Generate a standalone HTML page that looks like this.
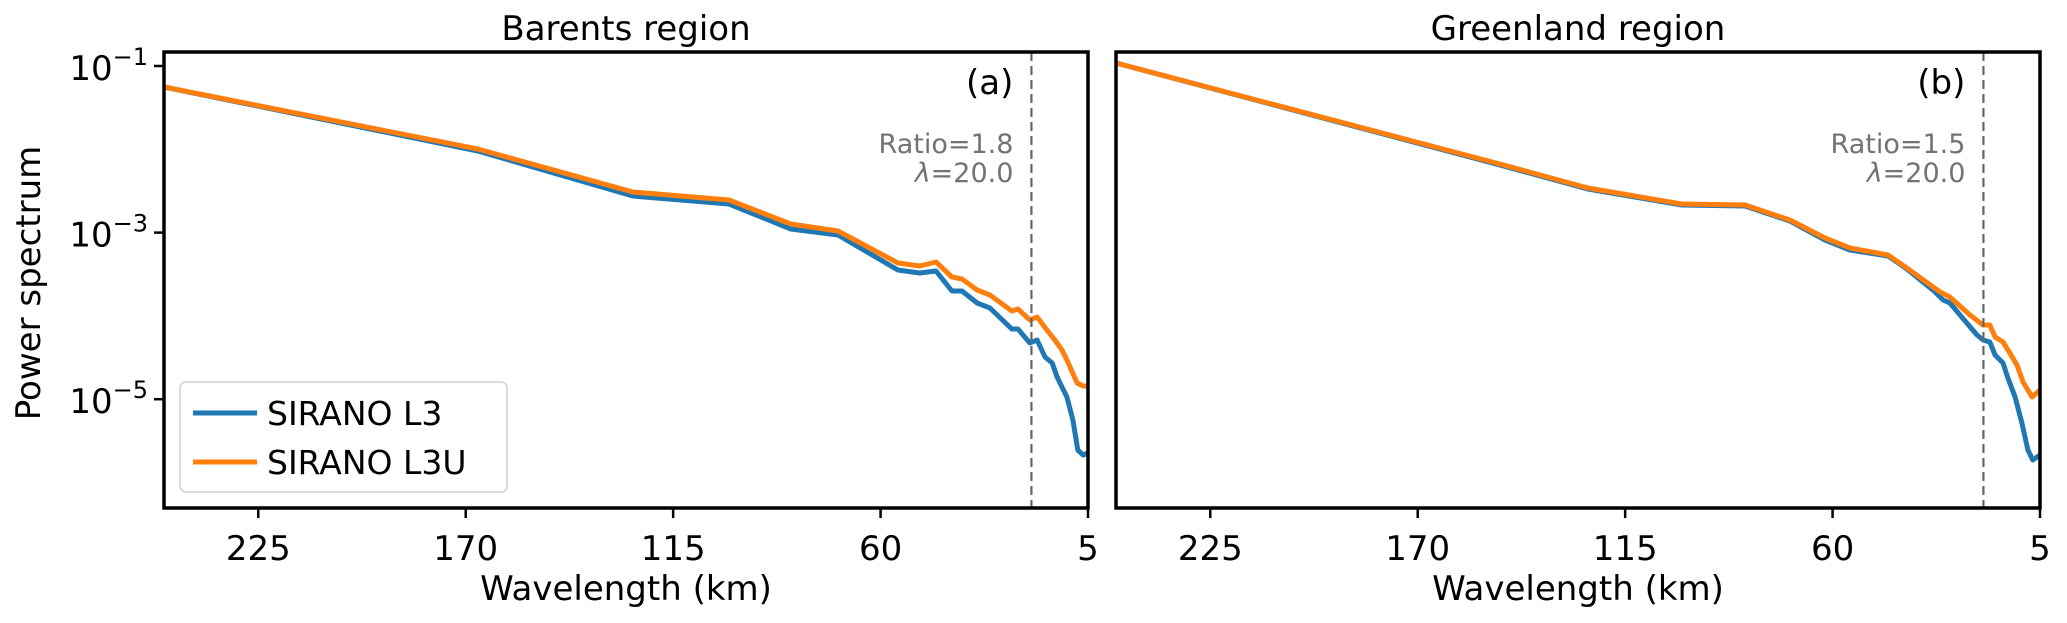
<!DOCTYPE html>
<html><head><meta charset="utf-8">
<style>
html,body{margin:0;padding:0;background:#fff;}
svg{display:block;font-family:"DejaVu Sans","Liberation Sans",sans-serif;}
</style></head>
<body>
<svg id="chart" width="2067" height="623" viewBox="0 0 2067 623" xmlns="http://www.w3.org/2000/svg">
<g id="panels"></g>
<text x="40" y="283" font-size="34" text-anchor="middle" transform="rotate(-90 40 283)">Power spectrum</text>
<g>
<rect x="180" y="382" width="327" height="110" rx="6" fill="#fff" stroke="#d0d0d0" stroke-width="1.5"/>
<line x1="193" y1="413" x2="257" y2="413" stroke="#1f77b4" stroke-width="5"/>
<text x="267" y="425" font-size="33">SIRANO L3</text>
<line x1="193" y1="462" x2="257" y2="462" stroke="#ff7f0e" stroke-width="5"/>
<text x="267" y="474" font-size="33">SIRANO L3U</text>
</g>
</svg>
<script>
// Data (wavelength km, log10 power)
const xTicks = [225, 170, 115, 60, 5];
const yTickExps = [-1, -3, -5];
const barentsKmL3 = [250,166.8,125.7,100.2,83.8,71.3,55.4,49.6,45.3,41.1,38.4,34.4,31.0,25.2,23.6,20.4,18.5,16.4,14.5,13.2,10.6,9.0,7.7,6.3,5];
const barentsL3 = [-1.252,-2.02,-2.561,-2.657,-2.957,-3.029,-3.449,-3.485,-3.461,-3.701,-3.701,-3.845,-3.905,-4.157,-4.157,-4.325,-4.289,-4.493,-4.565,-4.733,-4.973,-5.25,-5.61,-5.67,-5.646];
const barentsKmL3U = [250,166.8,125.7,100.2,83.8,71.3,55.4,49.6,45.3,41.1,38.4,34.4,31.0,25.2,23.6,20.4,18.5,15.9,13.8,11.9,10.6,7.9,6.3,5];
const barentsL3U = [-1.252,-1.996,-2.513,-2.609,-2.897,-2.981,-3.365,-3.401,-3.353,-3.533,-3.557,-3.689,-3.749,-3.941,-3.917,-4.049,-4.013,-4.169,-4.289,-4.409,-4.529,-4.806,-4.842,-4.842];
const greenKmL3 = [250,148.2,124.9,100.0,83.2,71.3,62.0,55.4,45.3,40.3,33.4,30.7,28.9,24.4,21.7,20.1,18.3,16.9,14.8,13.5,11.6,9.8,8.2,6.9,5];
const greenL3 = [-0.964,-2.188,-2.477,-2.669,-2.681,-2.861,-3.089,-3.209,-3.281,-3.437,-3.689,-3.809,-3.845,-4.085,-4.229,-4.289,-4.313,-4.469,-4.565,-4.745,-4.974,-5.286,-5.61,-5.73,-5.67];
const greenKmL3U = [250,148.2,124.9,100.0,83.2,71.3,62.0,55.4,45.3,40.3,31.5,28.9,23.6,20.1,18.3,16.9,14.8,13.0,11.1,9.5,7.1,5];
const greenL3U = [-0.964,-2.176,-2.465,-2.657,-2.669,-2.849,-3.065,-3.185,-3.269,-3.425,-3.713,-3.773,-3.989,-4.109,-4.109,-4.253,-4.313,-4.445,-4.589,-4.793,-4.974,-4.89];
const titles = ["Barents region", "Greenland region"];
const panelTags = ["(a)", "(b)"];
const ratios = ["1.8", "1.5"];
const cutoffKm = [20.0, 20.0];

const NS = "http://www.w3.org/2000/svg";
const root = document.getElementById("panels");
const top0 = 52, bot0 = 508, kmMax = 250, kmMin = 5, expTop = -0.832, expBot = -6.306;
function mk(tag, attrs, parent){const e=document.createElementNS(NS,tag);for(const k in attrs)e.setAttribute(k,attrs[k]);parent.appendChild(e);return e;}
const panels = [
 {left:164,right:1088,series:[[barentsKmL3,barentsL3],[barentsKmL3U,barentsL3U]]},
 {left:1116,right:2040,series:[[greenKmL3,greenL3],[greenKmL3U,greenL3U]]}
];
const colors = ["#1f77b4","#ff7f0e"];
const seriesNames = ["l3","l3u"];
panels.forEach((p,i)=>{
  const xs = km => p.left + (kmMax-km)/(kmMax-kmMin)*(p.right-p.left);
  const ys = e => top0 + (expTop-e)/(expTop-expBot)*(bot0-top0);
  const g = mk("g",{},root);
  
  
  p.series.forEach((s,j)=>{
    const d = s[0].map((k,n)=>(n?"L":"M")+xs(k).toFixed(1)+","+ys(s[1][n]).toFixed(1)).join("");
    const path = mk("path",{d:d,fill:"none",stroke:colors[j],"stroke-width":5,"stroke-linejoin":"round"},g);
    
    
  });
  const cl = mk("line",{x1:xs(cutoffKm[i]),x2:xs(cutoffKm[i]),y1:top0,y2:bot0,stroke:"#666","stroke-width":2.2,"stroke-dasharray":"9,5"},g);
  
  
  const fr = mk("rect",{x:p.left,y:top0,width:p.right-p.left,height:bot0-top0,fill:"none",stroke:"#000","stroke-width":3.5},g);
  
  
  xTicks.forEach(t=>{
    mk("line",{x1:xs(t),x2:xs(t),y1:bot0,y2:bot0+10,stroke:"#000","stroke-width":2.5},g);
    const tx = mk("text",{x:xs(t),y:560,"font-size":34,"text-anchor":"middle"},g);
    tx.textContent = t;
    
    
  });
  if(i===0){
    yTickExps.forEach(e=>{
      mk("line",{x1:p.left-10,x2:p.left,y1:ys(e),y2:ys(e),stroke:"#000","stroke-width":2.5},g);
      const tx = mk("text",{x:p.left-16,y:ys(e)+14,"font-size":34,"text-anchor":"end"},g);
      tx.innerHTML = '10<tspan dy="-15" font-size="24">\u2212'+Math.abs(e)+'</tspan>';
      
      
    });
  }
  const cx = (p.left+p.right)/2;
  const tt = mk("text",{x:cx,y:40,"font-size":34,"text-anchor":"middle"},g);
  tt.textContent = titles[i];
  
  
  const xl = mk("text",{x:cx,y:600,"font-size":34,"text-anchor":"middle"},g);
  xl.textContent = "Wavelength (km)";
  
  
  const tag = mk("text",{x:xs(cutoffKm[i])-18,y:94,"font-size":34,"text-anchor":"end"},g);
  tag.textContent = panelTags[i];
  
  
  const r1 = mk("text",{x:xs(cutoffKm[i])-18,y:153,"font-size":27,fill:"#737373","text-anchor":"end"},g);
  r1.textContent = "Ratio="+ratios[i];
  
  
  const r2 = mk("text",{x:xs(cutoffKm[i])-18,y:182,"font-size":27,fill:"#737373","text-anchor":"end"},g);
  r2.innerHTML = '<tspan font-style="italic">\u03bb</tspan>='+cutoffKm[i].toFixed(1);
  
  
});
</script>
</body></html>
